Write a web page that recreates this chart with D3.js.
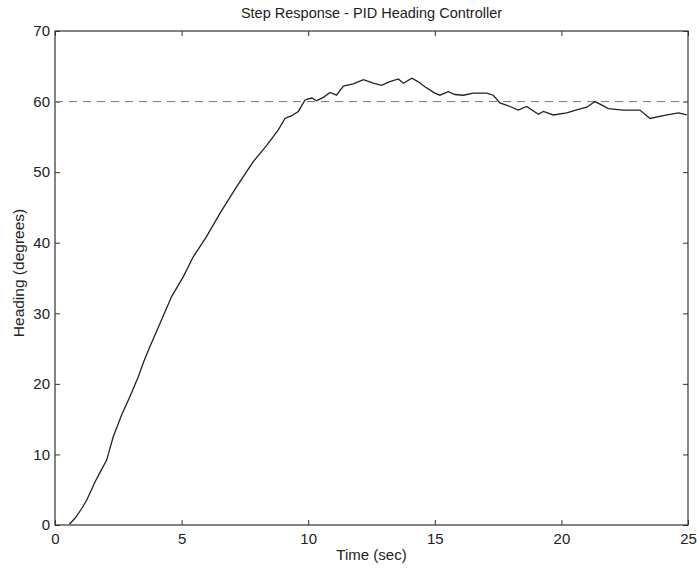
<!DOCTYPE html>
<html>
<head>
<meta charset="utf-8">
<script src="https://cdn.jsdelivr.net/npm/d3@7"></script>
<style>
  body { margin: 0; background: #fff; }
  text { font-family: "Liberation Sans", Arial, sans-serif; fill: #222; }
</style>
</head>
<body>
<svg id="chart" width="697" height="568"></svg>
<script>
const width = 697, height = 568
const margin = {top: 31, right: 9, bottom: 43, left: 55}

// values
const timeSec = [0.57, 0.79, 1.05, 1.25, 1.58, 1.8, 2.04, 2.3, 2.63, 2.96, 3.29, 3.5, 3.75, 4.15, 4.61, 5.07, 5.46, 5.99,
  6.52, 7.17, 7.83, 8.36, 8.82, 9.08, 9.35, 9.61, 9.87, 9.94, 10.15, 10.33, 10.6, 10.86, 11.12, 11.39, 11.78, 12.18,
  12.57, 12.9, 13.2, 13.56, 13.76, 14.09, 14.35, 14.61, 15.0, 15.2, 15.53, 15.8, 16.13, 16.52, 17.05, 17.31, 17.57,
  17.97, 18.3, 18.63, 19.09, 19.29, 19.68, 20.21, 20.67, 21.0, 21.33, 21.6, 21.85, 22.44, 23.1, 23.5, 24.02, 24.62, 24.95]
const heading = [0.1, 0.95, 2.3, 3.5, 6.1, 7.6, 9.2, 12.5, 15.6, 18.2, 21.0, 23.1, 25.3, 28.6, 32.4, 35.2, 38.0, 40.9,
  44.2, 47.9, 51.5, 53.8, 56.0, 57.6, 58.0, 58.6, 60.2, 60.3, 60.5, 60.1, 60.6, 61.3, 60.9, 62.2, 62.5, 63.1,
  62.6, 62.3, 62.8, 63.2, 62.6, 63.3, 62.8, 62.1, 61.2, 60.9, 61.4, 61.0, 60.9, 61.2, 61.2, 60.9, 59.8,
  59.3, 58.8, 59.3, 58.2, 58.6, 58.1, 58.4, 58.9, 59.2, 60.0, 59.5, 59.0, 58.8, 58.8, 57.6, 58.0, 58.4, 58.1]
const setpoint = 60
const xTicks = [0, 5, 10, 15, 20, 25]
const yTicks = [0, 10, 20, 30, 40, 50, 60, 70]

const svg = d3.select("#chart")
const x = d3.scaleLinear().domain([0, 25]).range([margin.left, width - margin.right])
const y = d3.scaleLinear().domain([0, 70]).range([height - margin.bottom, margin.top])

const tick = 5
const axisColor = "#333"

// frame
svg.append("rect")
  .attr("x", x(0)).attr("y", y(70))
  .attr("width", x(25) - x(0)).attr("height", y(0) - y(70))
  .attr("fill", "none").attr("stroke", axisColor).attr("stroke-width", 1.2)

// inward ticks, matlab style
const gBottom = svg.append("g").attr("transform", `translate(0,${y(0)})`)
  .call(d3.axisBottom(x).tickValues(xTicks).tickSizeInner(-tick).tickSizeOuter(0).tickPadding(8))
const gTop = svg.append("g").attr("transform", `translate(0,${y(70)})`)
  .call(d3.axisTop(x).tickValues(xTicks).tickSizeInner(-tick).tickSizeOuter(0).tickFormat(""))
const gLeft = svg.append("g").attr("transform", `translate(${x(0)},0)`)
  .call(d3.axisLeft(y).tickValues(yTicks).tickSizeInner(-tick).tickSizeOuter(0).tickPadding(5))
const gRight = svg.append("g").attr("transform", `translate(${x(25)},0)`)
  .call(d3.axisRight(y).tickValues(yTicks).tickSizeInner(-tick).tickSizeOuter(0).tickFormat(""))

;[gBottom, gTop, gLeft, gRight].forEach(g => {
  g.select(".domain").remove()
  g.selectAll("line").attr("stroke", axisColor)
  g.selectAll("text").style("font-size", "15px").attr("fill", "#222")
})

// setpoint
svg.append("line")
  .attr("x1", x(0)).attr("x2", x(25))
  .attr("y1", y(setpoint)).attr("y2", y(setpoint))
  .attr("stroke", "#777").attr("stroke-width", 1)
  .attr("stroke-dasharray", "8,6")

// response
const line = d3.line().x((d, i) => x(timeSec[i])).y(d => y(d))
svg.append("path")
  .datum(heading)
  .attr("d", line)
  .attr("fill", "none")
  .attr("stroke", "#222")
  .attr("stroke-width", 1.3)

svg.append("text")
  .attr("x", (x(0) + x(25)) / 2).attr("y", 18)
  .attr("text-anchor", "middle")
  .style("font-size", "14.5px")
  .text("Step Response - PID Heading Controller")

svg.append("text")
  .attr("x", (x(0) + x(25)) / 2).attr("y", 560)
  .attr("text-anchor", "middle")
  .style("font-size", "15px")
  .text("Time (sec)")

svg.append("text")
  .attr("transform", `translate(24,${(y(0) + y(70)) / 2 - 5}) rotate(-90)`)
  .attr("text-anchor", "middle")
  .style("font-size", "15.5px")
  .text("Heading (degrees)")
</script>
</body>
</html>
